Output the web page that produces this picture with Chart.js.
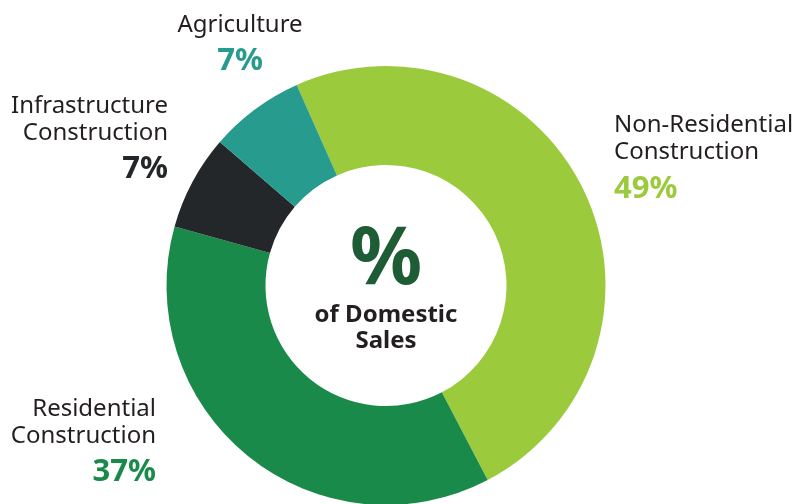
<!DOCTYPE html>
<html>
<head>
<meta charset="utf-8">
<script src="https://cdn.jsdelivr.net/npm/chart.js@4"></script>
<style>
  html, body { margin: 0; padding: 0; background: #fff; }
  #wrap { width: 795px; height: 504px; overflow: hidden; position: relative; }
  canvas { display: block; }
</style>
</head>
<body>
<div id="wrap"><canvas id="donut" width="795" height="571"></canvas></div>
<script>
// Datos del gráfico
var categories = ['Non-Residential Construction', 'Residential Construction', 'Infrastructure Construction', 'Agriculture'];
var labelLines = [['Non-Residential', 'Construction'], ['Residential', 'Construction'], ['Infrastructure', 'Construction'], ['Agriculture']];
var shares = [49, 37, 7, 7];
var centerTitle = '%';
var centerText = ['of Domestic', 'Sales'];

var colors = ['#9BCA3C', '#1A8A4A', '#232729', '#279B8D'];
var pctColors = ['#9BCA3C', '#1A8A4A', '#232729', '#279B8D'];

// Posición de las etiquetas (x, alineación, línea base de la primera línea, línea base del %)
var labelLayout = [
  { x: 614, align: 'left', y: 132, pctY: 198 },
  { x: 156, align: 'right', y: 416, pctY: 481 },
  { x: 168, align: 'right', y: 113, pctY: 178 },
  { x: 240, align: 'center', y: 32, pctY: 70 }
];

var textPlugin = {
  id: 'textos',
  afterDraw: function (chart) {
    var ctx = chart.ctx;
    ctx.save();
    ctx.textBaseline = 'alphabetic';
    labelLayout.forEach(function (l, i) {
      ctx.textAlign = l.align;
      ctx.fillStyle = '#231F20';
      ctx.font = '24px "Noto Sans"';
      labelLines[i].forEach(function (line, j) {
        ctx.fillText(line, l.x, l.y + j * 26.5);
      });
      ctx.fillStyle = pctColors[i];
      ctx.font = 'bold 31px "Noto Sans"';
      ctx.fillText(shares[i] + '%', l.x, l.pctY);
    });
    // Texto central
    var cx = 386;
    ctx.textAlign = 'center';
    ctx.fillStyle = '#1E5C35';
    ctx.font = 'bold 80px "Noto Sans"';
    ctx.fillText(centerTitle, cx, 284);
    ctx.fillStyle = '#231F20';
    ctx.font = 'bold 24px "Noto Sans"';
    ctx.fillText(centerText[0], cx, 322);
    ctx.fillText(centerText[1], cx, 348);
    ctx.restore();
  }
};

var ctx = document.getElementById('donut').getContext('2d');
var donutChart = new Chart(ctx, {
  type: 'doughnut',
  data: {
    labels: categories,
    datasets: [{
      data: shares,
      backgroundColor: colors,
      borderWidth: 0,
      hoverOffset: 0
    }]
  },
  options: {
    responsive: false,
    animation: false,
    rotation: -24,
    radius: 219.5,
    cutout: '54.9%',
    layout: { padding: { right: 23 } },
    plugins: {
      legend: { display: false },
      tooltip: { enabled: false }
    }
  },
  plugins: [textPlugin]
});
</script>
</body>
</html>
